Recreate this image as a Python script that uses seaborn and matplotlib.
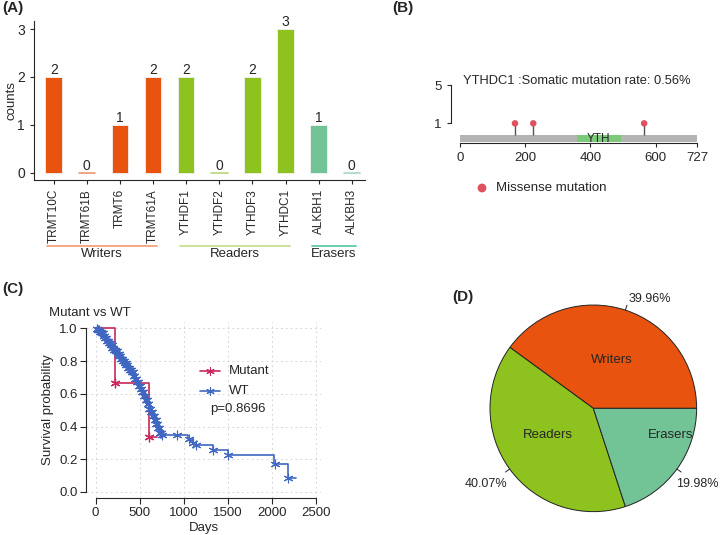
import matplotlib
matplotlib.use("Agg")
import matplotlib.pyplot as plt
import numpy as np
import pandas as pd
import seaborn as sns

# ---- data ----
genes = ["TRMT10C", "TRMT61B", "TRMT6", "TRMT61A", "YTHDF1", "YTHDF2",
         "YTHDF3", "YTHDC1", "ALKBH1", "ALKBH3"]
counts = [2, 0, 1, 2, 2, 0, 2, 3, 1, 0]
groups = ["Writers"] * 4 + ["Readers"] * 4 + ["Erasers"] * 2
group_names = ["Writers", "Readers", "Erasers"]
group_share = [39.96, 40.07, 19.98]

protein_len = 727
domain_name = "YTH"
domain_start, domain_end = 358, 493
mut_pos = [169, 225, 565]
mut_count = [1, 1, 1]

mut_time = [0, 215, 605, 692]
mut_surv = [1.0, 0.667, 0.333, 0.333]
mut_cens_time = [215, 605]
mut_cens_surv = [0.667, 0.333]

wt_time = [0, 20, 40, 60, 80, 100, 120, 140, 160, 180, 200, 220, 240, 260, 280,
           300, 320, 340, 360, 380, 400, 420, 440, 460, 480, 500, 520, 540, 560,
           580, 600, 620, 640, 660, 680, 700, 720, 740, 760, 1050, 1100, 1130,
           1330, 1500, 2030, 2180, 2280]
wt_surv = [1.0, 0.995, 0.99, 0.98, 0.97, 0.955, 0.94, 0.925, 0.91, 0.895, 0.88,
           0.87, 0.86, 0.845, 0.83, 0.815, 0.80, 0.79, 0.775, 0.76, 0.745, 0.73,
           0.71, 0.69, 0.67, 0.65, 0.63, 0.61, 0.585, 0.56, 0.535, 0.51, 0.49,
           0.465, 0.44, 0.415, 0.39, 0.36, 0.35, 0.325, 0.30, 0.285, 0.255,
           0.225, 0.17, 0.085, 0.085]
wt_cens_time = [10, 30, 50, 70, 90, 110, 130, 150, 170, 190, 210, 230, 250, 270,
                290, 310, 330, 350, 370, 390, 410, 430, 450, 470, 490, 510, 530,
                550, 570, 590, 610, 630, 650, 670, 690, 710, 730, 750, 920, 1060,
                1110, 1140, 1330, 1500, 2040, 2180]
wt_cens_surv = [0.995, 0.99, 0.98, 0.97, 0.955, 0.94, 0.925, 0.91, 0.895, 0.88,
                0.87, 0.86, 0.845, 0.83, 0.815, 0.80, 0.79, 0.775, 0.76, 0.745,
                0.73, 0.71, 0.69, 0.67, 0.65, 0.63, 0.61, 0.585, 0.56, 0.535,
                0.51, 0.49, 0.465, 0.44, 0.415, 0.39, 0.36, 0.35, 0.35, 0.325,
                0.30, 0.285, 0.255, 0.225, 0.17, 0.085]
p_value = "p=0.8696"

# ---- style ----
sns.set_style("ticks")
plt.rcParams["font.family"] = ["Liberation Sans", "DejaVu Sans"]
plt.rcParams["font.size"] = 9.5

bar_pal = {"Writers": "#E8540F", "Readers": "#8DC21F", "Erasers": "#72C396"}
line_pal = {"Writers": "#F2A27E", "Readers": "#C6E08E", "Erasers": "#5FC9A8"}
mut_col = "#C8285A"
wt_col = "#3F67C2"
dot_col = "#E0505F"
star = (6, 2, 0)

fig = plt.figure(figsize=(7.2, 5.35), dpi=100)

# ---- (A) bar chart ----
axA = fig.add_axes([0.047, 0.664, 0.46, 0.297])
dfA = pd.DataFrame({"gene": genes, "counts": counts, "group": groups})
sns.barplot(data=dfA, x="gene", y="counts", hue="group", palette=bar_pal,
            dodge=False, width=0.5, legend=False, ax=axA, saturation=1,
            edgecolor="#f3f3f3", linewidth=0.6)
for i, (v, g) in enumerate(zip(counts, groups)):
    if v == 0:
        axA.plot([i - 0.25, i + 0.25], [0, 0], color=bar_pal[g], lw=1.2, alpha=0.6)
    axA.text(i, v, str(v), ha="center", va="bottom", fontsize=10)
axA.set_xlim(-0.6, 9.4)
axA.set_ylim(-0.15, 3.17)
axA.set_yticks([0, 1, 2, 3])
axA.set_xlabel("")
axA.set_ylabel("counts", fontsize=9.5)
axA.yaxis.set_label_coords(-0.05, 0.5)
axA.tick_params(axis="x", rotation=90, labelsize=8.5, length=3)
axA.tick_params(axis="y", labelsize=10, length=3)
sns.despine(ax=axA)
trans = axA.get_xaxis_transform()
for g in group_names:
    idx = [i for i, gg in enumerate(groups) if gg == g]
    x0, x1 = idx[0] - 0.2, idx[-1] + 0.12
    axA.plot([x0, x1], [-0.42, -0.42], color=line_pal[g], lw=1.3,
             transform=trans, clip_on=False)
    axA.text((x0 + x1) / 2, -0.47, g, ha="center", va="center", fontsize=9.5,
             transform=trans)

# ---- (B) lollipop ----
axB = fig.add_axes([0.626, 0.732, 0.357, 0.118])
axB.set_xlim(-28, 760)
axB.set_ylim(-1.09, 5.5)
axB.add_patch(plt.Rectangle((0, -0.95), protein_len, 0.7, color="#B4B4B4", lw=0))
axB.add_patch(plt.Rectangle((domain_start, -0.95), domain_end - domain_start, 0.7,
                            color="#7CC97A", lw=0))
axB.text((domain_start + domain_end) / 2, -0.62, domain_name, ha="center",
         va="center", fontsize=8.5)
axB.vlines(mut_pos, -0.25, mut_count, color="#555555", lw=1)
sns.scatterplot(x=mut_pos, y=mut_count, color=dot_col, s=22, edgecolor="none",
                ax=axB, zorder=3)
axB.spines["left"].set_bounds(1, 5)
axB.spines["bottom"].set_bounds(0, protein_len)
axB.spines["top"].set_visible(False)
axB.spines["right"].set_visible(False)
axB.set_yticks([1, 5])
axB.set_xticks([0, 200, 400, 600, 727])
axB.tick_params(labelsize=9.5, length=3)
fig.text(463 / 720, 1 - 81 / 535, "YTHDC1 :Somatic mutation rate: 0.56%",
         ha="left", va="center", fontsize=9.3)
fig.text(496 / 720, 1 - 188 / 535, "Missense mutation", ha="left", va="center",
         fontsize=9.5)

# ---- (C) Kaplan-Meier ----
axC = fig.add_axes([0.1194, 0.0686, 0.3266, 0.33])
axC.step(mut_time, mut_surv, where="post", color=mut_col, lw=1.2)
axC.step(wt_time, wt_surv, where="post", color=wt_col, lw=1.2)
sns.scatterplot(x=wt_cens_time, y=wt_cens_surv, marker=star, color=wt_col,
                s=40, linewidth=0.8, ax=axC, zorder=3)
sns.scatterplot(x=wt_time[1:38], y=wt_surv[1:38], marker=star, color=wt_col,
                s=40, linewidth=0.8, ax=axC, zorder=3)
sns.scatterplot(x=mut_cens_time, y=mut_cens_surv, marker=star, color=mut_col,
                s=40, linewidth=0.9, ax=axC, zorder=4)
axC.set_xlim(-110, 2560)
axC.set_ylim(-0.0385, 1.04)
axC.set_xticks([0, 500, 1000, 1500, 2000, 2500])
axC.set_yticks([0, 0.2, 0.4, 0.6, 0.8, 1.0])
axC.set_yticklabels(["0.0", "0.2", "0.4", "0.6", "0.8", "1.0"])
axC.grid(True, ls=(0, (2, 3)), color="#d8d8d8", lw=0.7)
axC.spines["left"].set_bounds(0, 1)
axC.spines["bottom"].set_bounds(0, 2500)
axC.spines["top"].set_visible(False)
axC.spines["right"].set_visible(False)
axC.tick_params(labelsize=9.5, length=4, pad=2)
axC.set_xlabel("Days", fontsize=9.5)
axC.xaxis.set_label_coords(0.5, -0.135)
axC.set_ylabel("Survival probability", fontsize=9.5)
fig.text(49 / 720, 1 - 313 / 535, "Mutant vs WT", ha="left", va="center",
         fontsize=9.5)
fig.text(210 / 720, 1 - 409 / 535, p_value, ha="left", va="center", fontsize=9.5)

# ---- (D) pie ----
axD = fig.add_axes([0.6375, 0.034, 0.3731, 0.4538])
wedges, _ = axD.pie(group_share, colors=[bar_pal[g] for g in group_names],
                    startangle=0, counterclock=True,
                    wedgeprops=dict(edgecolor="#222222", linewidth=0.7))
axD.set_xlim(-1.3, 1.3)
axD.set_ylim(-1.05, 1.3)
axD.set_aspect("auto")
inner_pos = [(0.5, 69), (0.51, 210), (0.79, 341)]
pct_pos = [(0.345, 1.058, "left"), (-0.837, -0.73, "right"), (0.80, -0.73, "left")]
for w, g, share, (r, ang), (px, py, ha) in zip(wedges, group_names, group_share,
                                               inner_pos, pct_pos):
    axD.text(r * np.cos(np.radians(ang)), r * np.sin(np.radians(ang)), g,
             ha="center", va="center", fontsize=9.5)
    mid = np.radians((w.theta1 + w.theta2) / 2)
    c, s = np.cos(mid), np.sin(mid)
    axD.plot([c, 1.05 * c], [s, 1.05 * s], color="#222222", lw=0.7)
    axD.text(px, py, f"{share:.2f}%", ha=ha, va="center", fontsize=9)

# ---- overlay: legends drawn in pixel coordinates ----
ov = fig.add_axes([0, 0, 1, 1], facecolor="none", zorder=10)
ov.set_axis_off()
ov.set_xlim(0, 720)
ov.set_ylim(535, 0)
ov.scatter([482], [188], s=40, color=dot_col, edgecolor="none")
for yy, col, lab in [(370.7, mut_col, "Mutant"), (391, wt_col, "WT")]:
    ov.plot([200, 220], [yy, yy], color=col, lw=1.2)
    ov.scatter([210], [yy], marker=star, color=col, s=30, lw=0.8)
    ov.text(229, yy, lab, ha="left", va="center", fontsize=9.5)

# ---- panel labels ----
for lab, x, y in [("(A)", 2, 8), ("(B)", 392, 8), ("(C)", 2, 289), ("(D)", 452, 297)]:
    fig.text(x / 720, 1 - y / 535, lab, ha="left", va="center", fontsize=11,
             fontweight="bold")

fig.savefig("out.png", dpi=100)
